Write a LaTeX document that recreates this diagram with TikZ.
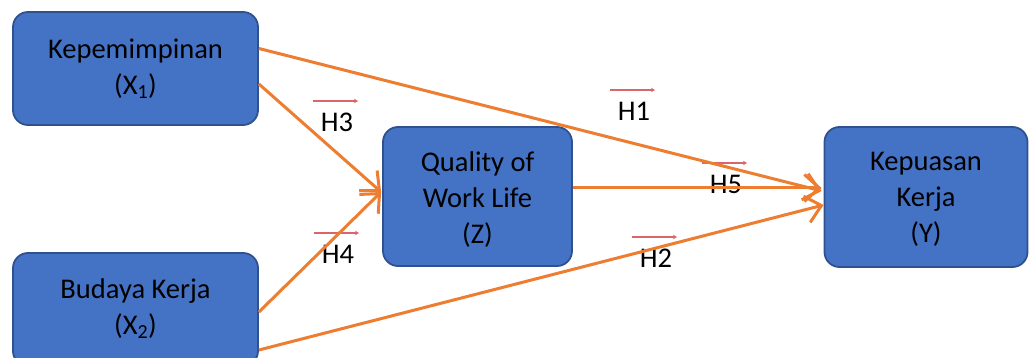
\documentclass[tikz,border=0pt]{standalone}
\usepackage{fontspec}
\setmainfont{Carlito}
\usetikzlibrary{arrows.meta,calc}
\definecolor{boxfill}{HTML}{4472C4}
\definecolor{boxline}{HTML}{2F528F}
\definecolor{orangeline}{HTML}{ED7D31}
\definecolor{tinyred}{HTML}{D9676A}
\tikzset{
  varbox/.style={draw=boxline, line width=1.8pt, fill=boxfill, rounded corners=15pt, inner sep=0pt},
  boxtext/.style={align=center, inner sep=0pt, font=\fontsize{28.5}{36}\selectfont, text=black},
  hlabel/.style={anchor=base, inner sep=0pt, font=\fontsize{28.5}{36}\selectfont},
  path/.style={draw=orangeline, line width=3pt, -{Straight Barb[length=15pt,width=27pt,line width=3pt]}},
  tinyarrow/.style={draw=tinyred, line width=1.1pt, -{Stealth[length=4pt,width=4.5pt]}},
}
\begin{document}
\begin{tikzpicture}[x=1pt,y=-1pt]
\useasboundingbox (0,0) rectangle (1029,358);
\clip (0,0) rectangle (1029,358);
% boxes
\node[varbox, minimum width=245pt, minimum height=113pt] (x1) at (135.5,68.5) {};
\node[varbox, minimum width=245pt, minimum height=113pt] (x2) at (135.5,309.5) {};
\node[varbox, minimum width=189pt, minimum height=139pt] (z) at (477.5,196.5) {};
\node[varbox, minimum width=203pt, minimum height=140pt] (y) at (926,197) {};
\node[boxtext] (x1t) at ($(x1.center)+(0,0)$) {Kepemimpinan\\(X\textsubscript{1})};
\node[boxtext] (x2t) at ($(x2.center)+(0,-1)$) {Budaya Kerja\\(X\textsubscript{2})};
\node[boxtext] (zt) at ($(z.center)+(0,3.5)$) {Quality of\\Work Life\\(Z)};
\node[boxtext] (yt) at ($(y.center)+(0,2.5)$) {Kepuasan\\Kerja\\(Y)};
% labels
\node[hlabel] (h1) at (634,121) {H1};
\node[hlabel] (h2) at (656,268) {H2};
\node[hlabel] (h3) at (337,132) {H3};
\node[hlabel] (h4) at (338,264) {H4};
\node[hlabel] (h5) at (726,194) {H5};
\foreach \h in {h1,h2,h3,h4,h5}{
  \coordinate (\h a) at ($(\h.base)+(-24,-31)$);
  \coordinate (\h b) at ($(\h.base)+(21,-31)$);
  \draw[tinyarrow] (\h a) -- (\h b);
}
% connectors
\draw[path] ($(x1.east)+(0,-20)$) -- ($(y.west)+(-2,-6)$);
\draw[path] ($(x1.east)+(0,15.5)$) -- ($(z.west)+(-1,-4.5)$);
\draw[path] ($(x2.east)+(0,2.5)$) -- ($(z.west)+(-1,-4.5)$);
\draw[path] ($(z.east)+(0,-8.5)$) -- ($(y.west)+(-2,-9)$);
\draw[path] ($(x2.east)+(0,40.5)$) -- ($(y.west)+(0,8)$);
\end{tikzpicture}
\end{document}
